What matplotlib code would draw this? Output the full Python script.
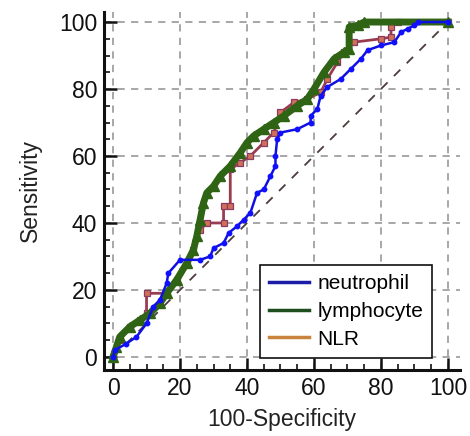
import matplotlib
matplotlib.use("Agg")
import matplotlib.pyplot as plt
from matplotlib.lines import Line2D
from matplotlib.ticker import MultipleLocator

plt.rcParams["font.family"] = ["Liberation Sans", "DejaVu Sans"]

# ROC curves (100-Specificity, Sensitivity)
neutrophil_x = [0, 0.5, 4, 7, 10, 12, 14, 16, 16.5, 20, 26, 29, 30, 33, 34.5, 37, 39, 41, 43, 45, 47,
                48.5, 48.5, 49, 50, 55, 59, 59, 61, 62, 64, 68, 71, 74, 76, 80, 84, 86, 88, 90, 91, 100]
neutrophil_y = [0, 2, 4, 6, 10, 15, 17, 22, 25, 29, 29, 30, 32.5, 34, 37, 39, 41, 43, 49, 50, 54,
                57, 60, 65, 67, 68, 70, 72, 74, 78, 80.6, 83, 86, 89, 91.6, 93, 94, 97, 98, 99, 100, 100]

lymphocyte_x = [0, 1, 2, 5, 8, 11, 14, 16, 19, 22, 24, 25, 26, 27, 28, 30, 32, 35, 38, 40, 42, 45,
                48, 51, 55, 58, 60, 63, 66, 69, 70.5, 70.5, 73, 75, 100]
lymphocyte_y = [0, 3, 6, 9, 11, 13, 16, 19, 23, 28, 32, 36, 41, 46, 49, 51, 54, 57, 61, 64, 66, 68,
                70, 72, 75, 77, 80, 85, 89, 91, 92, 98.5, 99, 100, 100]

nlr_x = [0, 2, 5, 8, 10, 10, 16, 19, 22, 24, 26, 28, 33, 33, 35, 35, 38, 41, 45, 48, 50, 54, 58, 62,
         64, 67, 69, 72, 80, 83, 83, 85, 100]
nlr_y = [0, 5, 9, 11, 13, 19, 19, 23, 28, 32, 38, 40, 40, 45, 45, 56, 58, 60, 64, 67, 73, 76, 77, 79,
         83, 88, 91, 94, 95, 95.5, 98.5, 100, 100]

series_labels = ["neutrophil", "lymphocyte", "NLR"]
legend_colors = ["#1c1ca8", "#1e4d1e", "#c8843c"]
ticks = [0, 20, 40, 60, 80, 100]

fig = plt.figure(figsize=(4.7, 4.36), dpi=100)
ax = fig.add_axes([0.2213, 0.1514, 0.7574, 0.8211])

ax.plot([0, 100], [0, 100], color="#4d3b3b", linewidth=1.3, dashes=(5, 5), zorder=2)

ax.plot(nlr_x, nlr_y, color="#9a3c50", linewidth=2, marker="s", markersize=4,
        markerfacecolor="#d07058", markeredgecolor="#8b3a62", markeredgewidth=0.9, zorder=3)
ax.plot(lymphocyte_x, lymphocyte_y, color="#2f6414", linewidth=5, marker="^", markersize=7,
        markerfacecolor="#2f6414", markeredgecolor="#2f6414", zorder=4)
ax.plot(neutrophil_x, neutrophil_y, color="#1010e0", linewidth=1.8, marker="o", markersize=3.2,
        markerfacecolor="#1010ff", markeredgecolor="#1010ff", zorder=5)

ax.set_xlim(-2.7, 103.6)
ax.set_ylim(-3.9, 103)
ax.set_xticks(ticks)
ax.set_yticks(ticks)
ax.xaxis.set_minor_locator(MultipleLocator(5))
ax.yaxis.set_minor_locator(MultipleLocator(5))
ax.grid(True, which="major", color="#a0a0a0", linewidth=1.3, dashes=(4, 3.5))
ax.set_axisbelow(True)

for side in ["top", "right"]:
    ax.spines[side].set_visible(False)
for side in ["left", "bottom"]:
    ax.spines[side].set_linewidth(2.2)
    ax.spines[side].set_color("#111111")

ax.tick_params(which="major", direction="in", length=9, width=1.8, labelsize=16.5,
               pad=5, colors="#111111")
ax.tick_params(which="minor", direction="in", length=4.5, width=1.2, colors="#111111")

ax.set_xlabel("100-Specificity", fontsize=16.5, color="#222222", labelpad=6)
ax.set_ylabel("Sensitivity", fontsize=16.5, color="#222222", labelpad=12)

handles = [Line2D([0], [0], color=c, linewidth=2.5) for c in legend_colors]
leg = ax.legend(handles, series_labels, loc="lower left", bbox_to_anchor=(0.438, 0.0335),
                borderaxespad=0, fontsize=15, handlelength=1.9, handletextpad=0.4,
                labelspacing=0.42, fancybox=False, framealpha=1, edgecolor="#111111",
                borderpad=0.45)
leg.get_frame().set_linewidth(1.2)
leg.set_zorder(10)

fig.savefig("out.png", dpi=100)
